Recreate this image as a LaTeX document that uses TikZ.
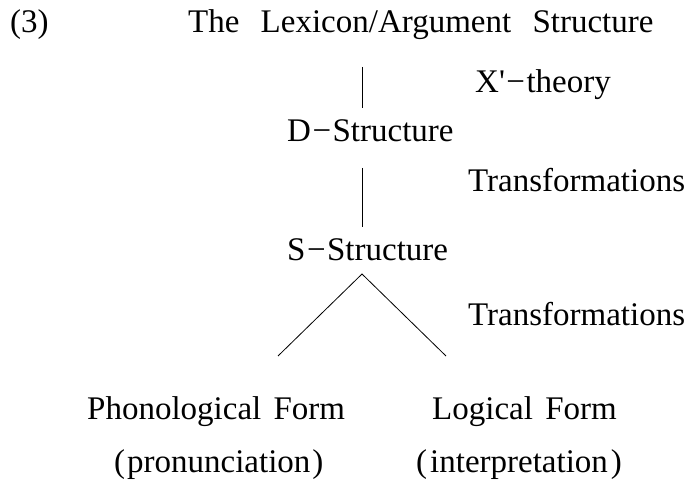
\documentclass[tikz,border=0pt]{standalone}
\usepackage{fontspec}
\setmainfont{Liberation Serif}
\usetikzlibrary{positioning}
\tikzset{
  lbl/.style={anchor=base west,inner sep=0pt,font=\fontsize{33}{36}\selectfont},
  br/.style={line width=0.8pt,draw=black},
}
\newcommand{\dsh}{\kern1.5pt\char"2212\kern1.5pt}

\begin{document}
\begin{tikzpicture}[x=1pt,y=-1pt]
  \useasboundingbox (0,0) rectangle (686,484);
  \node[lbl] (ex) at (10,33) {(3)};
  \node[lbl] (lex) at (188,33) {The\hspace{13pt} Lexicon/Argument\hspace{13pt} Structure};
  \node[lbl] (xb) at (475,93) {X\textquotesingle\dsh theory};
  \node[lbl] (ds) at (287,142) {D\dsh Structure};
  \node[lbl] (tr1) at (468,192) {Transformations};
  \node[lbl] (ss) at (287,260) {S\dsh Structure};
  \node[lbl] (tr2) at (468,325) {Transformations};
  \node[lbl] (pf) at (87,419) {Phonological\hspace{4pt} Form};
  \node[lbl] (lf) at (432,419) {Logical\hspace{4pt} Form};
  \node[lbl] (pron) at (114,472) {(\kern2pt pronunciation\kern2pt)};
  \node[lbl] (intp) at (416,472) {(\kern3pt interpretation\kern3pt)};
  % branch points
  \coordinate (a1) at (362,67);  \coordinate (b1) at (362,108);
  \coordinate (a2) at (362,168); \coordinate (b2) at (362,227);
  \coordinate (apex) at (362,274);
  \coordinate (pfend) at (278,356); \coordinate (lfend) at (446,356);
  \draw[br] (a1) -- (b1);
  \draw[br] (a2) -- (b2);
  \draw[br] (pfend) -- (apex) -- (lfend);
\end{tikzpicture}
\end{document}
